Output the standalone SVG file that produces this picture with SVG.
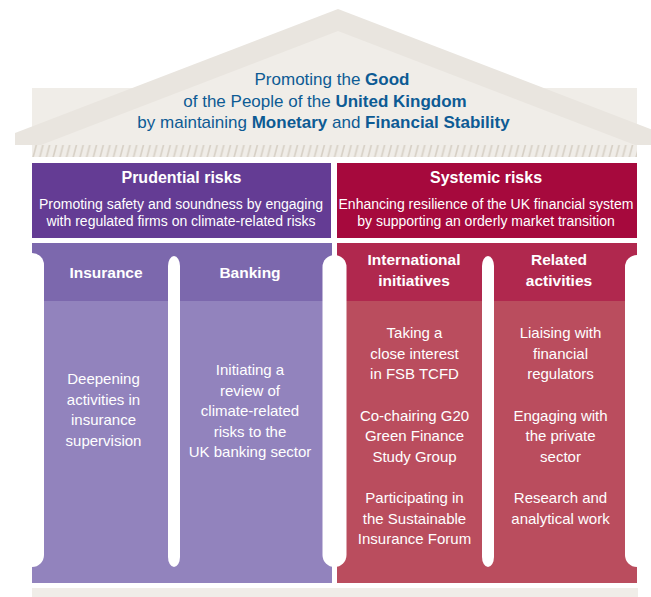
<svg xmlns="http://www.w3.org/2000/svg" width="651" height="597" viewBox="0 0 651 597">
  <defs>
    <pattern id="hatch" patternUnits="userSpaceOnUse" x="32" y="145" width="6.7" height="12">
      <rect width="6.7" height="12" fill="#f0ede8"/>
      <line x1="1" y1="12.5" x2="4.4" y2="-0.5" stroke="#d7d0c5" stroke-width="1.6"/>
    </pattern>
  </defs>
  <style>
    text { font-family: "Liberation Sans", Arial, sans-serif; text-anchor: middle; }
    .title { font-size: 17px; fill: #0d5b94; }
    .b { font-weight: bold; }
    .hdr { font-size: 16px; font-weight: bold; fill: #ffffff; }
    .sub { font-size: 14px; fill: #ffffff; }
    .col { font-size: 15.5px; font-weight: bold; fill: #ffffff; }
    .body { font-size: 15px; fill: #ffffff; }
    .gap { fill: #ffffff; }
  </style>

  <g id="roof">
    <rect x="32" y="88" width="605" height="57" fill="#f0ede8"/>
    <polygon points="15,145 15,133 338,9 661,133 661,145" fill="#e9e5df"/>
    <polygon points="41,145 338,31 635,145" fill="#f0ede8"/>
    <rect x="32" y="145" width="605" height="12" fill="url(#hatch)"/>
    <text class="title" x="332" y="85">Promoting the <tspan class="b">Good</tspan></text>
    <text class="title" x="325" y="107">of the People of the <tspan class="b">United Kingdom</tspan></text>
    <text class="title" x="323.5" y="128">by maintaining <tspan class="b">Monetary</tspan> and <tspan class="b">Financial Stability</tspan></text>
  </g>

  <g id="prudential">
    <rect x="32" y="163" width="299" height="75" fill="#643c94"/>
    <text class="hdr" x="181.5" y="183">Prudential risks</text>
    <text class="sub" x="181" y="209">Promoting safety and soundness by engaging</text>
    <text class="sub" x="181" y="226">with regulated firms on climate-related risks</text>
  </g>

  <g id="systemic">
    <rect x="337" y="163" width="300" height="75" fill="#a6093d"/>
    <text class="hdr" x="486" y="183">Systemic risks</text>
    <text class="sub" x="486" y="209">Enhancing resilience of the UK financial system</text>
    <text class="sub" x="486" y="226">by supporting an orderly market transition</text>
  </g>

  <g id="purple-columns">
    <rect x="32" y="243" width="300" height="58" fill="#7c68ad"/>
    <rect x="32" y="301" width="300" height="282" fill="#9283bd"/>
  </g>

  <g id="crimson-columns">
    <rect x="337" y="243" width="300" height="58" fill="#b0284e"/>
    <rect x="337" y="301" width="300" height="282" fill="#ba4d5e"/>
  </g>

  <g id="column-gaps">
    <rect class="gap" x="20" y="253" width="24" height="314" rx="12" ry="12"/>
    <rect class="gap" x="168" y="256" width="12" height="311" rx="6" ry="10"/>
    <rect class="gap" x="322.5" y="255" width="24" height="312" rx="12" ry="12"/>
    <rect class="gap" x="482" y="256" width="12" height="311" rx="6" ry="10"/>
    <rect class="gap" x="625" y="255" width="24" height="312" rx="12" ry="12"/>
  </g>

  <g id="insurance">
    <text class="col" x="106" y="278">Insurance</text>
    <text class="body" x="103.5" y="384">Deepening</text>
    <text class="body" x="103.5" y="404.5">activities in</text>
    <text class="body" x="103.5" y="425">insurance</text>
    <text class="body" x="103.5" y="445.5">supervision</text>
  </g>

  <g id="banking">
    <text class="col" x="250" y="278">Banking</text>
    <text class="body" x="250" y="375">Initiating a</text>
    <text class="body" x="250" y="395.5">review of</text>
    <text class="body" x="250" y="416">climate-related</text>
    <text class="body" x="250" y="436.5">risks to the</text>
    <text class="body" x="250" y="457">UK banking sector</text>
  </g>

  <g id="international">
    <text class="col" x="414" y="265">International</text>
    <text class="col" x="414" y="286">initiatives</text>
    <text class="body" x="414.5" y="338">Taking a</text>
    <text class="body" x="414.5" y="358.5">close interest</text>
    <text class="body" x="414.5" y="379">in FSB TCFD</text>
    <text class="body" x="414.5" y="420.5">Co-chairing G20</text>
    <text class="body" x="414.5" y="441">Green Finance</text>
    <text class="body" x="414.5" y="461.5">Study Group</text>
    <text class="body" x="414.5" y="503">Participating in</text>
    <text class="body" x="414.5" y="523.5">the Sustainable</text>
    <text class="body" x="414.5" y="544">Insurance Forum</text>
  </g>

  <g id="related">
    <text class="col" x="559" y="265">Related</text>
    <text class="col" x="559" y="286">activities</text>
    <text class="body" x="560.5" y="338">Liaising with</text>
    <text class="body" x="560.5" y="358.5">financial</text>
    <text class="body" x="560.5" y="379">regulators</text>
    <text class="body" x="560.5" y="420.5">Engaging with</text>
    <text class="body" x="560.5" y="441">the private</text>
    <text class="body" x="560.5" y="461.5">sector</text>
    <text class="body" x="560.5" y="503">Research and</text>
    <text class="body" x="560.5" y="523.5">analytical work</text>
  </g>

  <g id="base">
    <rect x="32" y="588" width="606" height="9" fill="#f0ede8"/>
  </g>
</svg>
